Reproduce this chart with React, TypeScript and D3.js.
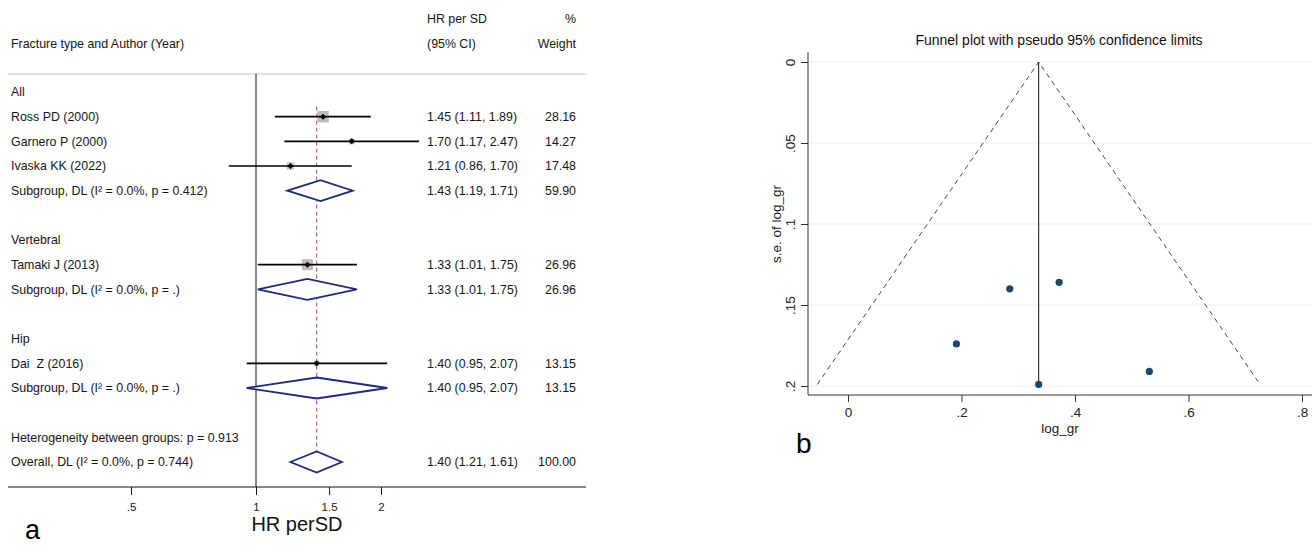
import { useEffect, useRef } from "react";
import * as d3 from "d3";

// forest plot rows (top to bottom)
const rowLabels = [
  "All",
  "Ross PD (2000)",
  "Garnero P (2000)",
  "Ivaska KK (2022)",
  "Subgroup, DL (I\u00b2 = 0.0%, p = 0.412)",
  "",
  "Vertebral",
  "Tamaki J (2013)",
  "Subgroup, DL (I\u00b2 = 0.0%, p = .)",
  "",
  "Hip",
  "Dai\u00a0 Z (2016)",
  "Subgroup, DL (I\u00b2 = 0.0%, p = .)",
  "",
  "Heterogeneity between groups: p = 0.913",
  "Overall, DL (I\u00b2 = 0.0%, p = 0.744)",
];
const rowKinds = [
  "head", "study", "study", "study", "pooled", "gap",
  "head", "study", "pooled", "gap",
  "head", "study", "pooled", "gap",
  "note", "pooled",
];
const rowEst = [null, 1.45, 1.7, 1.21, 1.43, null, null, 1.33, 1.33, null, null, 1.4, 1.4, null, null, 1.4];
const rowLow = [null, 1.11, 1.17, 0.86, 1.19, null, null, 1.01, 1.01, null, null, 0.95, 0.95, null, null, 1.21];
const rowHigh = [null, 1.89, 2.47, 1.7, 1.71, null, null, 1.75, 1.75, null, null, 2.07, 2.07, null, null, 1.61];
const rowWeight = [null, 28.16, 14.27, 17.48, 59.9, null, null, 26.96, 26.96, null, null, 13.15, 13.15, null, null, 100.0];
const overallHR = 1.4;
const forestTicks = [0.5, 1, 1.5, 2];

// funnel plot
const studyLogHR = [0.372, 0.531, 0.191, 0.285, 0.336];
const studySE = [0.136, 0.191, 0.174, 0.140, 0.199];
const pooledLog = 0.336;
const funnelSEmax = 0.199;
const funnelLow = -0.054;
const funnelHigh = 0.726;
const funnelXTicks = [0, 0.2, 0.4, 0.6, 0.8];
const funnelYTicks = [0, 0.05, 0.1, 0.15, 0.2];

const FONT = "'Liberation Sans', Arial, sans-serif";
const noZero = (v: number) => (v === 0 ? "0" : String(v).replace(/^0\./, "."));

const App = () => {
  const svgRef = useRef<SVGSVGElement>(null);

  useEffect(() => {
    const svg = d3.select(svgRef.current).attr("width", 1312).attr("height", 545);
    svg.selectAll("*").remove();
    svg.style("font-family", FONT);

    // ---------- panel a: forest plot ----------
    const fx = d3.scaleLog().domain([1, 2]).range([256, 381]);
    const fy = d3.scalePoint<number>().domain(d3.range(rowLabels.length)).range([92, 462]);
    const box = d3.scaleLinear().domain([0, 28.16]).range([0, 11.5]);
    const a = svg.append("g").attr("font-size", 12.4).attr("fill", "#161616");

    a.append("text").attr("x", 427).attr("y", 19).attr("dy", "0.35em").text("HR per SD");
    a.append("text").attr("x", 576).attr("y", 19).attr("dy", "0.35em").attr("text-anchor", "end").text("%");
    a.append("text").attr("x", 11).attr("y", 44).attr("dy", "0.35em").text("Fracture type and Author (Year)");
    a.append("text").attr("x", 427).attr("y", 44).attr("dy", "0.35em").text("(95% CI)");
    a.append("text").attr("x", 576).attr("y", 44).attr("dy", "0.35em").attr("text-anchor", "end").text("Weight");

    a.append("line").attr("x1", 8).attr("x2", 586).attr("y1", 74).attr("y2", 74)
      .attr("stroke", "#c4c4c4").attr("stroke-width", 1);

    // null line
    a.append("line").attr("x1", fx(1)).attr("x2", fx(1)).attr("y1", 74).attr("y2", 487)
      .attr("stroke", "#111").attr("stroke-width", 1);

    // overall estimate dashed line
    a.append("line").attr("x1", fx(overallHR)).attr("x2", fx(overallHR))
      .attr("y1", fy(1)! - 10).attr("y2", fy(15)! - 10)
      .attr("stroke", "#b0445a").attr("stroke-width", 1).attr("stroke-dasharray", "4,3");

    rowLabels.forEach((label, i) => {
      const y = fy(i)!;
      const kind = rowKinds[i];
      if (label) {
        a.append("text").attr("x", 11).attr("y", y).attr("dy", "0.35em").text(label);
      }
      const est = rowEst[i];
      const lo = rowLow[i];
      const hi = rowHigh[i];
      const w = rowWeight[i];
      if (est == null || lo == null || hi == null || w == null) return;

      if (kind === "study") {
        const s = box(w);
        a.append("rect").attr("x", fx(est) - s / 2).attr("y", y - s / 2)
          .attr("width", s).attr("height", s).attr("fill", "#bdbdbd");
        a.append("line").attr("x1", fx(lo)).attr("x2", fx(hi)).attr("y1", y).attr("y2", y)
          .attr("stroke", "#000").attr("stroke-width", 1.6);
        const c = fx(est);
        a.append("path").attr("d", `M${c - 3},${y}L${c},${y - 3}L${c + 3},${y}L${c},${y + 3}Z`)
          .attr("fill", "#000");
      } else if (kind === "pooled") {
        const pts = [[fx(lo), y], [fx(est), y - 10.5], [fx(hi), y], [fx(est), y + 10.5]];
        a.append("path").attr("d", "M" + pts.map((p) => p.join(",")).join("L") + "Z")
          .attr("fill", "#fff").attr("stroke", "#1c2a80").attr("stroke-width", 1.8)
          .attr("stroke-linejoin", "miter");
      }
      a.append("text").attr("x", 427).attr("y", y).attr("dy", "0.35em")
        .text(`${est.toFixed(2)} (${lo.toFixed(2)}, ${hi.toFixed(2)})`);
      a.append("text").attr("x", 576).attr("y", y).attr("dy", "0.35em").attr("text-anchor", "end")
        .text(w.toFixed(2));
    });

    // x axis
    a.append("line").attr("x1", 8).attr("x2", 586).attr("y1", 487).attr("y2", 487)
      .attr("stroke", "#111").attr("stroke-width", 1);
    const fAxis = d3.axisBottom(fx).tickValues(forestTicks).tickFormat((d) => noZero(+d)).tickSize(8).tickPadding(8);
    const fg = a.append("g").attr("transform", "translate(0,487)").call(fAxis);
    fg.select(".domain").remove();
    fg.selectAll("line").attr("stroke", "#111");
    fg.selectAll("text").attr("font-family", FONT).attr("font-size", 11.5).attr("fill", "#1a1a1a");

    svg.append("text").attr("x", 297).attr("y", 531).attr("text-anchor", "middle")
      .attr("font-size", 20).attr("fill", "#111").text("HR perSD");
    svg.append("text").attr("x", 25).attr("y", 539).attr("font-size", 27).attr("fill", "#000").text("a");

    // ---------- panel b: funnel plot ----------
    const gx = d3.scaleLinear().domain([0, 0.8]).range([848, 1302]);
    const gy = d3.scaleLinear().domain([0, 0.2]).range([62, 386]);
    const b = svg.append("g");

    b.append("text").attr("x", 1059).attr("y", 40).attr("dy", "0.35em").attr("text-anchor", "middle")
      .attr("font-size", 14).attr("fill", "#111").text("Funnel plot with pseudo 95% confidence limits");

    b.selectAll(".grid").data(funnelYTicks).join("line")
      .attr("x1", 809).attr("x2", 1312).attr("y1", (d) => gy(d)).attr("y2", (d) => gy(d))
      .attr("stroke", "#e6f0f2").attr("stroke-width", 1);

    // confidence limits
    const lineGen = d3.line<[number, number]>().x((d) => gx(d[0])).y((d) => gy(d[1]));
    b.append("path").attr("d", lineGen([[funnelLow, funnelSEmax], [pooledLog, 0], [funnelHigh, funnelSEmax]]))
      .attr("fill", "none").attr("stroke", "#444").attr("stroke-width", 1).attr("stroke-dasharray", "5,4");
    b.append("path").attr("d", lineGen([[pooledLog, 0], [pooledLog, funnelSEmax]]))
      .attr("stroke", "#111").attr("stroke-width", 1);

    b.selectAll(".pt").data(studyLogHR).join("circle")
      .attr("cx", (d) => gx(d)).attr("cy", (_, i) => gy(studySE[i])).attr("r", 3.6)
      .attr("fill", "#1a476f");

    // axes
    b.append("line").attr("x1", 808).attr("x2", 808).attr("y1", 52).attr("y2", 395).attr("stroke", "#333");
    b.append("line").attr("x1", 808).attr("x2", 1312).attr("y1", 395).attr("y2", 395).attr("stroke", "#333");

    const xAxis = d3.axisBottom(gx).tickValues(funnelXTicks).tickFormat((d) => noZero(+d)).tickSize(7).tickPadding(5);
    const xg = b.append("g").attr("transform", "translate(0,395)").call(xAxis);
    xg.select(".domain").remove();
    xg.selectAll("line").attr("stroke", "#333");
    xg.selectAll("text").attr("font-family", FONT).attr("font-size", 13.5).attr("fill", "#222");

    const yAxis = d3.axisLeft(gy).tickValues(funnelYTicks).tickFormat((d) => noZero(+d)).tickSize(7).tickPadding(0);
    const yg = b.append("g").attr("transform", "translate(808,0)").call(yAxis);
    yg.select(".domain").remove();
    yg.selectAll("line").attr("stroke", "#333");
    yg.selectAll("text").attr("font-family", FONT).attr("font-size", 13.5).attr("fill", "#222")
      .attr("x", 0).attr("y", -18).attr("dy", "0.35em")
      .attr("text-anchor", "middle")
      .attr("transform", "rotate(-90)");

    b.append("text").attr("transform", "translate(776,224) rotate(-90)").attr("text-anchor", "middle")
      .attr("dy", "0.35em").attr("font-size", 13.5).attr("fill", "#222").text("s.e. of log_gr");
    b.append("text").attr("x", 1060).attr("y", 428).attr("dy", "0.35em").attr("text-anchor", "middle")
      .attr("font-size", 13.5).attr("fill", "#222").text("log_gr");
    b.append("text").attr("x", 796).attr("y", 453).attr("font-size", 28).attr("fill", "#000").text("b");
  }, []);

  return (
    <div style={{ position: "absolute", left: 0, top: 0, background: "#fff" }}>
      <svg ref={svgRef} style={{ display: "block" }}></svg>
    </div>
  );
};

export default App;
